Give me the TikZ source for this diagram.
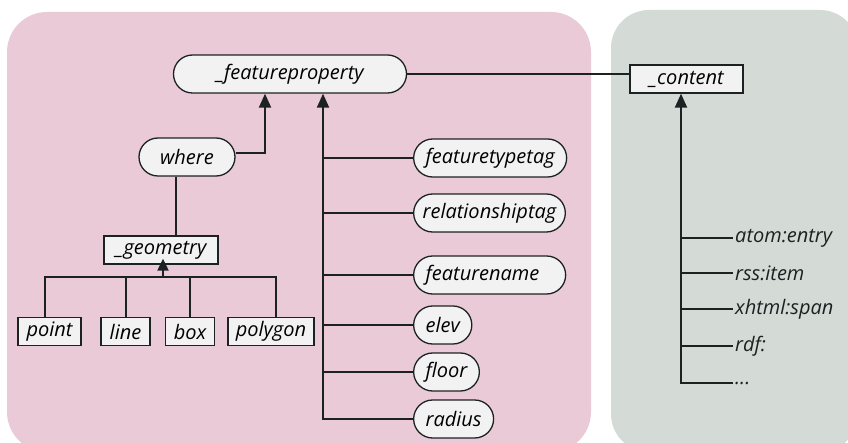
\documentclass[tikz,border=0pt]{standalone}
\usepackage{fontspec}
\setmainfont{Open Sans}
\usetikzlibrary{arrows.meta, calc, positioning}
\definecolor{pinkbg}{RGB}{235,202,215}
\definecolor{graybg}{RGB}{212,218,214}
\definecolor{boxfill}{RGB}{242,242,242}
\definecolor{linec}{RGB}{28,34,34}
\newcommand{\itlab}{\fontsize{20}{24}\selectfont\itshape}
\tikzset{
    pill/.style={draw=linec, fill=boxfill, line width=1.3pt, rounded corners=19pt,
        minimum height=38pt, inner xsep=12pt, align=left, font=\itlab},
    tagbox/.style={draw=linec, fill=boxfill, line width=1.3pt,
        minimum height=28pt, inner xsep=8pt, font=\itlab},
    lab/.style={inner sep=2pt, font=\itlab, text=linec},
    link/.style={draw=linec, line width=2pt},
}

\begin{document}
\begin{tikzpicture}[x=1pt, y=-1pt, >={Triangle[width=12pt,length=14pt]}]
\clip (0,0) rectangle (848,443);
% panels
\fill[pinkbg, rounded corners=40pt] (7,12) rectangle (591,452);
\fill[graybg, rounded corners=38pt] (611,10) rectangle (858,452);

\node[pill, minimum width=233pt] (fprop) at (290,74) {\_featureproperty};
\node[pill, minimum width=96pt] (where) at (187,157) {where};
\node[tagbox, minimum width=114pt] (geom) at (161,250) {\_geometry};
\node[tagbox, minimum width=63pt] (point) at (49.5,331.5) {point};
\node[tagbox, minimum width=49pt] (line) at (125.5,331.5) {line};
\node[tagbox, minimum width=48pt] (box) at (190,331.5) {box};
\node[tagbox, minimum width=84pt] (polygon) at (271,331.5) {polygon};

\node[pill, anchor=west, text width=129pt] (ftype) at (413,158) {featuretypetag};
\node[pill, anchor=west, inner xsep=9pt] (reltag) at (413,213) {relationshiptag};
\node[pill, anchor=west, text width=128pt] (fname) at (413,275) {featurename};
\node[pill, anchor=west] (elev) at (413,325) {elev};
\node[pill, anchor=west] (floor) at (413,372) {floor};
\node[pill, anchor=west] (radius) at (413,419) {radius};

\node[tagbox, minimum width=113pt] (content) at (686.5,79) {\_content};
\node[lab, anchor=west] (atom) at (733,238) {atom:entry};
\node[lab, anchor=west] (rss) at (733,273) {rss:item};
\node[lab, anchor=west] (xhtml) at (733,309) {xhtml:span};
\node[lab, anchor=west] (rdf) at (733,346) {rdf:};
\node[lab, anchor=west] (dots) at (733,383) {...};

% connectors
\coordinate (wtrunk) at (265,0);
\coordinate (wdrop) at (176,0);
\coordinate (ptrunk) at (323,0);
\coordinate (gbar) at (163,277);
\coordinate (gl) at (45,0);
\coordinate (gr) at (276,0);
\coordinate (ctrunk) at (681,0);

\draw[link,->] ($(where.east)+(0,-4)$) -| (fprop.south -| wtrunk);
\draw[link] (where.south -| wdrop) -- (geom.north -| wdrop);
\draw[link] (point.north -| gl) |- (gr |- gbar) -- (polygon.north -| gr);
\foreach \n in {line,box}
    \draw[link] (\n.north) -- (\n.north |- gbar);
\draw[link,-{Triangle[width=11pt,length=12pt]}] (gbar) -- ($(geom.south -| gbar)+(0,-6)$);

\draw[link,->] (radius.west) -| (fprop.south -| ptrunk);
\foreach \n in {ftype,reltag,fname,elev,floor}
    \draw[link] (\n.west) -- (\n.west -| ptrunk);

\draw[linec, line width=1.1pt] (fprop.east) -- (fprop.east -| content.west);
\draw[link,->] (dots.west) -| (content.south -| ctrunk);
\foreach \n in {atom,rss,xhtml,rdf}
    \draw[link] (\n.west) -- (\n.west -| ctrunk);

\end{tikzpicture}
\end{document}
